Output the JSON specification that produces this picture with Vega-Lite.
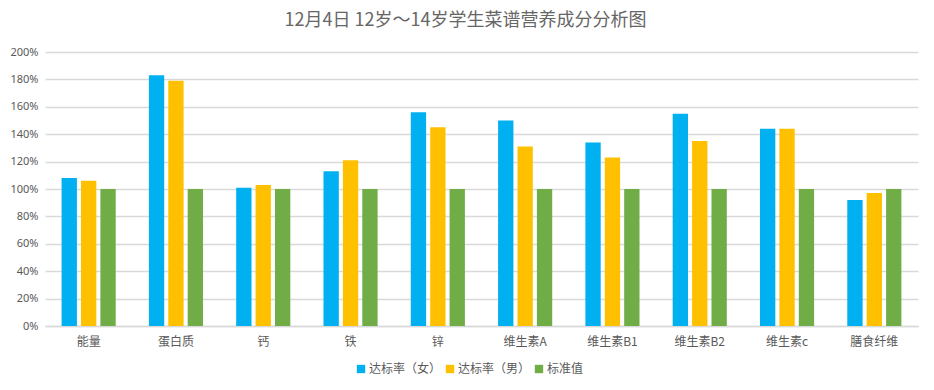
{
  "$schema": "https://vega.github.io/schema/vega-lite/v6.json",
  "width": 873,
  "height": 274,
  "autosize": {"type": "none"},
  "padding": {"left": 45, "top": 52, "right": 16, "bottom": 64},
  "background": "white",
  "title": {
    "text": "12月4日 12岁～14岁学生菜谱营养成分分析图",
    "font": "Noto Sans CJK SC",
    "fontSize": 18,
    "fontWeight": "normal",
    "color": "#666666",
    "anchor": "middle",
    "dx": -16,
    "offset": 16
  },
  "data": {
    "values": [
      {"item": "能量", "series": "达标率（女）", "value": 1.08},
      {"item": "能量", "series": "达标率（男）", "value": 1.06},
      {"item": "能量", "series": "标准值", "value": 1.0},
      {"item": "蛋白质", "series": "达标率（女）", "value": 1.83},
      {"item": "蛋白质", "series": "达标率（男）", "value": 1.79},
      {"item": "蛋白质", "series": "标准值", "value": 1.0},
      {"item": "钙", "series": "达标率（女）", "value": 1.01},
      {"item": "钙", "series": "达标率（男）", "value": 1.03},
      {"item": "钙", "series": "标准值", "value": 1.0},
      {"item": "铁", "series": "达标率（女）", "value": 1.13},
      {"item": "铁", "series": "达标率（男）", "value": 1.21},
      {"item": "铁", "series": "标准值", "value": 1.0},
      {"item": "锌", "series": "达标率（女）", "value": 1.56},
      {"item": "锌", "series": "达标率（男）", "value": 1.45},
      {"item": "锌", "series": "标准值", "value": 1.0},
      {"item": "维生素A", "series": "达标率（女）", "value": 1.50},
      {"item": "维生素A", "series": "达标率（男）", "value": 1.31},
      {"item": "维生素A", "series": "标准值", "value": 1.0},
      {"item": "维生素B1", "series": "达标率（女）", "value": 1.34},
      {"item": "维生素B1", "series": "达标率（男）", "value": 1.23},
      {"item": "维生素B1", "series": "标准值", "value": 1.0},
      {"item": "维生素B2", "series": "达标率（女）", "value": 1.55},
      {"item": "维生素B2", "series": "达标率（男）", "value": 1.35},
      {"item": "维生素B2", "series": "标准值", "value": 1.0},
      {"item": "维生素c", "series": "达标率（女）", "value": 1.44},
      {"item": "维生素c", "series": "达标率（男）", "value": 1.44},
      {"item": "维生素c", "series": "标准值", "value": 1.0},
      {"item": "膳食纤维", "series": "达标率（女）", "value": 0.92},
      {"item": "膳食纤维", "series": "达标率（男）", "value": 0.97},
      {"item": "膳食纤维", "series": "标准值", "value": 1.0}
    ]
  },
  "mark": {"type": "bar"},
  "encoding": {
    "x": {
      "field": "item",
      "type": "nominal",
      "sort": null,
      "scale": {"paddingInner": 0.38, "paddingOuter": 0.19},
      "axis": {
        "title": null,
        "labelAngle": 0,
        "labelFont": "Noto Sans CJK SC",
        "labelFontSize": 12,
        "labelColor": "#595959",
        "labelPadding": 10,
        "ticks": false,
        "domainColor": "#d9d9d9",
        "domainWidth": 1.3,
        "grid": false
      }
    },
    "xOffset": {
      "field": "series",
      "type": "nominal",
      "sort": ["达标率（女）", "达标率（男）", "标准值"],
      "scale": {"paddingInner": 0.21, "paddingOuter": 0}
    },
    "y": {
      "field": "value",
      "type": "quantitative",
      "scale": {"domain": [0, 2]},
      "axis": {
        "title": null,
        "format": ".0%",
        "values": [0, 0.2, 0.4, 0.6, 0.8, 1.0, 1.2, 1.4, 1.6, 1.8, 2.0],
        "labelFont": "Noto Sans",
        "labelFontSize": 11,
        "labelColor": "#595959",
        "labelPadding": 7,
        "ticks": false,
        "domain": false,
        "grid": true,
        "gridColor": "#d9d9d9",
        "gridWidth": 1.3
      }
    },
    "color": {
      "field": "series",
      "type": "nominal",
      "sort": ["达标率（女）", "达标率（男）", "标准值"],
      "scale": {
        "domain": ["达标率（女）", "达标率（男）", "标准值"],
        "range": ["#00B0F0", "#FFC000", "#70AD47"]
      },
      "legend": {
        "title": null,
        "orient": "none",
        "direction": "horizontal",
        "legendX": 310,
        "legendY": 311,
        "symbolType": "square",
        "symbolSize": 70,
        "symbolStrokeWidth": 0,
        "labelFont": "Noto Sans CJK SC",
        "labelFontSize": 12,
        "labelColor": "#595959",
        "columnPadding": 2,
        "labelOffset": 2
      }
    }
  },
  "config": {
    "view": {"stroke": null}
  }
}
